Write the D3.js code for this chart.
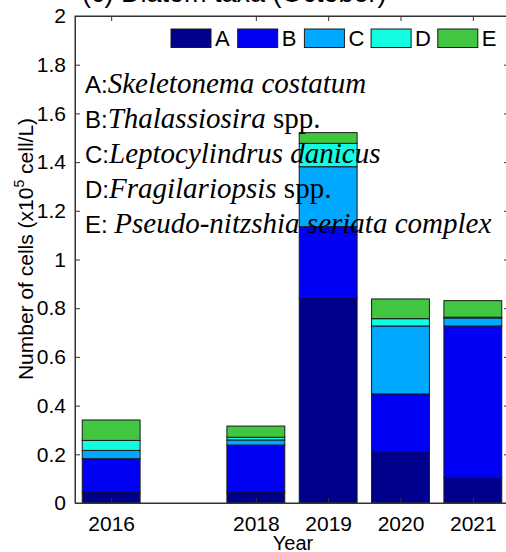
<!DOCTYPE html>
<html>
<head>
<meta charset="utf-8">
<script src="https://cdn.jsdelivr.net/npm/d3@7"></script>
<style>
  html, body { margin: 0; padding: 0; background: #fff; }
  svg { display: block; }
</style>
</head>
<body>
<svg id="chart" width="506" height="552"></svg>
<script>
// Diatom taxa abundance in October, stacked by taxon (x10^5 cells/L)
const years = [2016, 2018, 2019, 2020, 2021];
const seriesKeys = ["A", "B", "C", "D", "E"];
const valuesA = [0.046, 0.046, 0.843, 0.211, 0.105];
const valuesB = [0.136, 0.192, 0.292, 0.237, 0.622];
const valuesC = [0.034, 0.021, 0.246, 0.279, 0.033];
const valuesD = [0.041, 0.011, 0.096, 0.030, 0.003];
const valuesE = [0.084, 0.046, 0.044, 0.081, 0.068];
const seriesColors = ["#00008c", "#0000f5", "#00a8ff", "#12fce2", "#40c640"];
const yTicks = [0, 0.2, 0.4, 0.6, 0.8, 1, 1.2, 1.4, 1.6, 1.8, 2];
const yTickLabels = ["0", "0.2", "0.4", "0.6", "0.8", "1", "1.2", "1.4", "1.6", "1.8", "2"];
const taxa = [
  { code: "A:", name: "Skeletonema costatum", suffix: "" },
  { code: "B:", name: "Thalassiosira", suffix: " spp." },
  { code: "C:", name: "Leptocylindrus danicus", suffix: "" },
  { code: "D:", name: "Fragilariopsis", suffix: " spp." },
  { code: "E: ", name: "Pseudo-nitzshia seriata complex", suffix: "" }
];

const seriesValues = [valuesA, valuesB, valuesC, valuesD, valuesE];
const table = years.map((yr, i) => {
  const row = { year: yr };
  seriesKeys.forEach((k, j) => { row[k] = seriesValues[j][i]; });
  return row;
});

const svg = d3.select("#chart");
const sans = "'Liberation Sans', Arial, Helvetica, sans-serif";
const serif = "'Liberation Serif', 'Times New Roman', serif";

const x = d3.scaleLinear().domain([2015.5, 2021.5]).range([75, 509]);
const y = d3.scaleLinear().domain([0, 2]).range([503, 16]);
const barW = (x(1) - x(0)) * 0.8;

// Title (sits above the plot frame)
svg.append("text")
  .attr("x", 82).attr("y", 2)
  .attr("font-family", sans).attr("font-size", 27)
  .attr("fill", "#000")
  .text("(c) Diatom taxa (October)");

// Stacked bars
const stacked = d3.stack().keys(seriesKeys)(table);
const color = d3.scaleOrdinal().domain(seriesKeys).range(seriesColors);

svg.append("g").selectAll("g")
  .data(stacked)
  .join("g")
  .attr("fill", d => color(d.key))
  .selectAll("rect")
  .data(d => d)
  .join("rect")
  .attr("x", d => x(d.data.year) - barW / 2)
  .attr("width", barW)
  .attr("y", d => y(d[1]))
  .attr("height", d => Math.max(0, y(d[0]) - y(d[1])))
  .attr("stroke", "#1a1a1a")
  .attr("stroke-width", 1);

// Frame and axes
const axisColor = "#333";
const frame = svg.append("g");
frame.append("rect")
  .attr("x", x.range()[0]).attr("y", y.range()[1])
  .attr("width", x.range()[1] - x.range()[0])
  .attr("height", y.range()[0] - y.range()[1])
  .attr("fill", "none").attr("stroke", axisColor).attr("stroke-width", 1);

const tickLen = 5;
const yAxis = d3.axisLeft(y).tickValues(yTicks)
  .tickFormat((d, i) => yTickLabels[i])
  .tickSizeInner(-tickLen).tickSizeOuter(0).tickPadding(tickLen + 4);
const gy = svg.append("g").attr("transform", `translate(${x.range()[0]},0)`).call(yAxis);
gy.select(".domain").attr("stroke", axisColor);
gy.selectAll(".tick line").attr("stroke", axisColor);
gy.selectAll(".tick text").attr("font-family", sans).attr("font-size", 21).attr("fill", "#000");

const yAxisR = d3.axisRight(y).tickValues(yTicks).tickFormat("")
  .tickSizeInner(-tickLen).tickSizeOuter(0);
const gyr = svg.append("g").attr("transform", `translate(${x.range()[1]},0)`).call(yAxisR);
gyr.selectAll("line, path").attr("stroke", axisColor);

const xAxis = d3.axisBottom(x).tickValues(years).tickFormat(d3.format("d"))
  .tickSizeInner(-tickLen).tickSizeOuter(0).tickPadding(tickLen + 8);
const gx = svg.append("g").attr("transform", `translate(0,${y.range()[0]})`).call(xAxis);
gx.select(".domain").attr("stroke", axisColor);
gx.selectAll(".tick line").attr("stroke", axisColor);
gx.selectAll(".tick text").attr("font-family", sans).attr("font-size", 21).attr("fill", "#000");

const xAxisT = d3.axisTop(x).tickValues(years).tickFormat("")
  .tickSizeInner(-tickLen).tickSizeOuter(0);
const gxt = svg.append("g").attr("transform", `translate(0,${y.range()[1]})`).call(xAxisT);
gxt.selectAll("line, path").attr("stroke", axisColor);

// Axis titles
svg.append("text")
  .attr("x", 293).attr("y", 550)
  .attr("text-anchor", "middle")
  .attr("font-family", sans).attr("font-size", 20)
  .text("Year");

const yl = svg.append("text")
  .attr("transform", "translate(33,249) rotate(-90)")
  .attr("text-anchor", "middle")
  .attr("font-family", sans).attr("font-size", 21);
yl.append("tspan").text("Number of cells (x10");
yl.append("tspan").attr("font-size", 14).attr("dy", -9).text("5");
yl.append("tspan").attr("dy", 9).text(" cell/L)");

// Legend
const legend = svg.append("g");
seriesKeys.forEach((k, i) => {
  const lx = 171 + i * 66.7;
  legend.append("rect")
    .attr("x", lx).attr("y", 29)
    .attr("width", 40).attr("height", 18.5)
    .attr("fill", seriesColors[i])
    .attr("stroke", "#1a1a1a").attr("stroke-width", 1);
  legend.append("text")
    .attr("x", lx + 44).attr("y", 46)
    .attr("font-family", sans).attr("font-size", 22)
    .text(k);
});

// Taxon key drawn over the bars
const key = svg.append("g");
taxa.forEach((t, i) => {
  const tx = key.append("text")
    .attr("x", 85).attr("y", 93 + i * 35);
  tx.append("tspan").attr("font-family", sans).attr("font-size", 24).text(t.code);
  tx.append("tspan").attr("font-family", serif).attr("font-size", 29)
    .attr("font-style", "italic").text(t.name);
  if (t.suffix) {
    tx.append("tspan").attr("font-family", serif).attr("font-size", 29)
      .text(t.suffix);
  }
});
</script>
</body>
</html>
